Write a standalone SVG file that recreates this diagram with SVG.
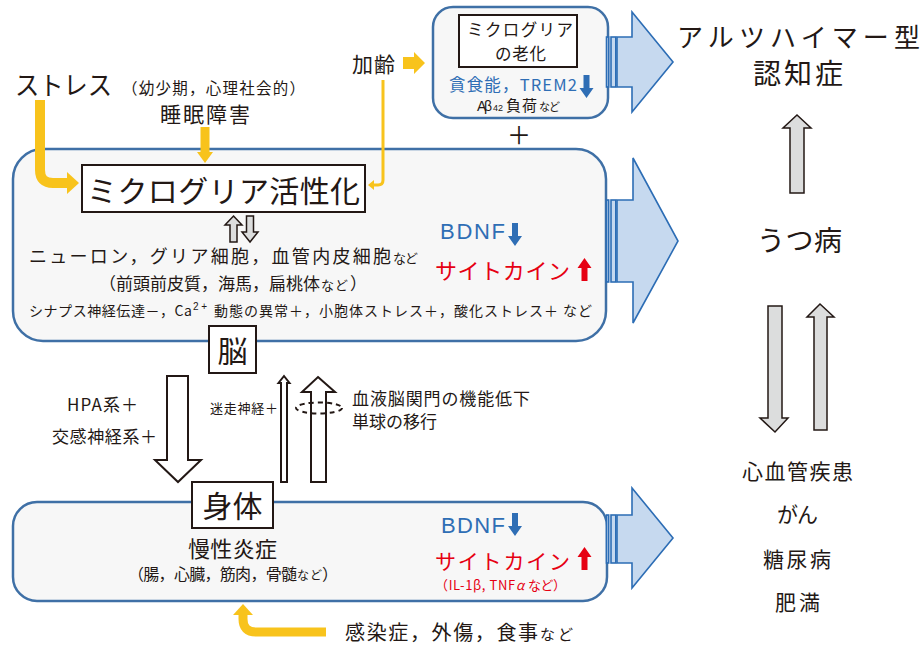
<svg xmlns="http://www.w3.org/2000/svg" width="922" height="646" viewBox="0 0 922 646">
<defs>
<style>
text{font-family:"Noto Sans CJK JP","Noto Sans",sans-serif;fill:#231815}
.lat{font-family:"Liberation Sans","Noto Sans CJK JP",sans-serif}
.blue{fill:#2f6eb5}
.red{fill:#e60012}
.box{fill:#f7f7f7;stroke:#3f70a6;stroke-width:2.5}
.lbl{fill:#fff;stroke:#231815;stroke-width:2}
.big{fill:#c6d9ef;stroke:#2c6db5;stroke-width:1.6}
.gray{fill:#dcdddd;stroke:#231815;stroke-width:1.5}
.hollow{fill:#fff;stroke:#231815;stroke-width:2}
.yel{fill:none;stroke:#f8c31c;stroke-linecap:butt}
.yelf{fill:#f8c31c}
</style>
<path id="dn" d="M-3,0 H3 V13 H7 L0,23 L-7,13 H-3 Z"/>
<path id="up" d="M-3,23 H3 V10 H7 L0,0 L-7,10 H-3 Z"/>
</defs>
<rect width="922" height="646" fill="#fff"/>

<g id="stress">
  <text x="15" y="95" font-size="26" textLength="97" lengthAdjust="spacingAndGlyphs">ストレス</text>
  <text x="122" y="94" font-size="15.5" textLength="183">（幼少期，心理社会的）</text>
</g>
<g id="sleep">
  <text x="160" y="122" font-size="21" textLength="90">睡眠障害</text>
</g>
<g id="aging">
  <text x="352" y="72" font-size="21" textLength="43">加齢</text>
</g>

<g id="microglia-aging">
  <rect class="box" x="433" y="7" width="175" height="111" rx="20"/>
  <rect class="lbl" x="459" y="15" width="118" height="52"/>
  <text x="467" y="36" font-size="16.5" textLength="106">ミクログリア</text>
  <text x="495" y="60" font-size="16.5" textLength="51">の老化</text>
  <text class="blue" x="449" y="91" font-size="16.5" textLength="128">貪食能，TREM2</text>
  <use href="#dn" x="586.5" y="75" class="blue"/>
  <text x="477" y="111" font-size="14" class="lat" textLength="15">Aβ</text>
  <text x="493" y="111" font-size="9" class="lat">42</text>
  <text x="506" y="111" font-size="15" textLength="31">負荷</text>
  <text x="539" y="111" font-size="11" textLength="21">など</text>
</g>
<g id="plus">
  <text x="519" y="144" font-size="24" text-anchor="middle">＋</text>
</g>

<g id="brain">
  <rect class="box" x="13" y="149" width="593" height="192" rx="30"/>
  <rect class="lbl" x="82" y="165" width="283" height="47"/>
  <text x="87" y="202" font-size="30" textLength="273">ミクログリア活性化</text>
  <text x="29" y="263" font-size="18" textLength="362">ニューロン，グリア細胞，血管内皮細胞</text>
  <text x="393" y="263" font-size="13" textLength="25">など</text>
  <text x="99" y="290" font-size="17" textLength="221">（前頭前皮質，海馬，扁桃体</text>
  <text x="321" y="290" font-size="13" textLength="27">など</text>
  <text x="350" y="290" font-size="17">）</text>
  <text x="29" y="316" font-size="14" textLength="163">シナプス神経伝達－，Ca</text>
  <text x="193" y="310" font-size="10" class="lat" textLength="14">2+</text>
  <text x="214" y="316" font-size="14" textLength="378">動態の異常＋，小胞体ストレス＋，酸化ストレス＋ など</text>
  <text class="blue lat" x="440" y="239" font-size="22" textLength="65">BDNF</text>
  <use href="#dn" x="515" y="223" class="blue"/>
  <text class="red" x="435" y="279" font-size="22" textLength="135">サイトカイン</text>
  <use href="#up" x="584.5" y="258" class="red"/>
  <rect class="lbl" x="209" y="326" width="47" height="47"/>
  <text x="232.5" y="362" font-size="30" text-anchor="middle">脳</text>
</g>

<g id="hpa">
  <text x="67" y="411" font-size="17" textLength="71">HPA系＋</text>
  <text x="52" y="443" font-size="17" textLength="105">交感神経系＋</text>
</g>
<g id="vagus">
  <text x="210" y="413" font-size="13" textLength="68">迷走神経＋</text>
</g>
<g id="bbb">
  <text x="352" y="405" font-size="17" textLength="178">血液脳関門の機能低下</text>
  <text x="352" y="428" font-size="17" textLength="85">単球の移行</text>
</g>

<g id="body">
  <rect class="box" x="13" y="502" width="594" height="99" rx="24"/>
  <rect class="lbl" x="192" y="482" width="81" height="46"/>
  <text x="232.5" y="517" font-size="30" text-anchor="middle">身体</text>
  <text x="188" y="557" font-size="22" textLength="89">慢性炎症</text>
  <text x="128" y="580" font-size="16" textLength="169">（腸，心臓，筋肉，骨髄</text>
  <text x="297" y="580" font-size="12" textLength="25">など</text>
  <text x="322" y="580" font-size="16">）</text>
  <text class="blue lat" x="441" y="533" font-size="22" textLength="64">BDNF</text>
  <use href="#dn" x="515" y="513" class="blue"/>
  <text class="red" x="435" y="569" font-size="21" textLength="135">サイトカイン</text>
  <use href="#up" x="584.5" y="547" class="red"/>
  <text class="red" x="435" y="590" font-size="13" textLength="89">（IL-1β, TNF<tspan font-style="italic">α</tspan></text>
  <text class="red" x="528" y="590" font-size="13" textLength="38">など）</text>
</g>

<g id="infection">
  <text x="345" y="640" font-size="20" textLength="193">感染症，外傷，食事</text>
  <text x="540" y="640" font-size="15" textLength="33">など</text>
</g>

<g id="alzheimer">
  <text x="677" y="47" font-size="26" textLength="243">アルツハイマー型</text>
  <text x="753" y="84" font-size="28" textLength="90">認知症</text>
</g>
<g id="depression">
  <text x="757" y="251" font-size="28" textLength="85">うつ病</text>
</g>
<g id="diseases">
  <text x="742" y="479" font-size="21" textLength="111">心血管疾患</text>
  <text x="777" y="522" font-size="21" textLength="41">がん</text>
  <text x="763" y="567" font-size="21" textLength="68">糖尿病</text>
  <text x="775" y="610" font-size="21" textLength="45">肥満</text>
</g>

<g id="connectors">
  <!-- stress arrow -->
  <path class="yel" stroke-width="10" d="M40,100 V170 Q40,183 53,183 H68"/>
  <polygon class="yelf" points="67,172 79,183 67,194"/>
  <!-- sleep arrow -->
  <rect class="yelf" x="200.5" y="127" width="9" height="26"/>
  <polygon class="yelf" points="197,152 213,152 205,163"/>
  <!-- aging right arrow -->
  <polygon class="yelf" points="403,57 414,57 414,52 425,63 414,74 414,69 403,69"/>
  <!-- aging thin line -->
  <path class="yel" stroke-width="3" d="M383,80 V180 Q383,185 378,185 H373"/>
  <polygon class="yelf" points="368,185 374,180 374,190"/>
  <!-- bottom yellow arrow -->
  <path class="yel" stroke-width="9" d="M326,632 H256 Q243,632 243,619 V614"/>
  <polygon class="yelf" points="233,615 253,615 243,604"/>
  <!-- brain <-> body arrows -->
  <path class="hollow" d="M167,376 H188 V460 H201 L178,482 L155,460 H167 Z"/>
  <path class="hollow" stroke-width="1.6" d="M284,376 L289.5,383 H287 V482 H281 V383 H278.5 Z"/>
  <path class="hollow" d="M318,377 L335,392 H326 V482 H311 V392 H302 Z"/>
  <ellipse cx="319" cy="408" rx="23" ry="5.5" fill="none" stroke="#231815" stroke-width="2" stroke-dasharray="5,4"/>
  <!-- microglia activation <-> cells -->
  <path class="gray" d="M233.5,216 L242,225 H237 V242 H230 V225 H225 Z"/>
  <path class="gray" d="M246.5,216 H253.5 V232 H258 L250,242 L242,232 H246.5 Z"/>
  <!-- big blue arrows -->
  <rect class="big" x="606.5" y="37" width="2.2" height="50"/>
  <rect class="big" x="611" y="37" width="4.8" height="50"/>
  <path class="big" d="M617,37 H632 V12 L673,62 L632,112 V87 H617 Z"/>
  <rect class="big" x="606.5" y="200" width="2.2" height="82"/>
  <rect class="big" x="611" y="200" width="4.8" height="82"/>
  <path class="big" d="M617,200 H633 V158 L678,241 L633,323 V282 H617 Z"/>
  <rect class="big" x="606.5" y="515" width="2.2" height="48"/>
  <rect class="big" x="611" y="515" width="4.8" height="48"/>
  <path class="big" d="M617,515 H632 V488 L673,538 L632,588 V563 H617 Z"/>
  <!-- right gray arrows -->
  <path class="gray" d="M797,115 L811,128 H804 V193 H790 V128 H783 Z"/>
  <path class="gray" d="M768,306 H782 V418 H788 L775,432 L760,418 H768 Z"/>
  <path class="gray" d="M820,304 L834,317 H827 V430 H814 V317 H807 Z"/>
</g>
</svg>
